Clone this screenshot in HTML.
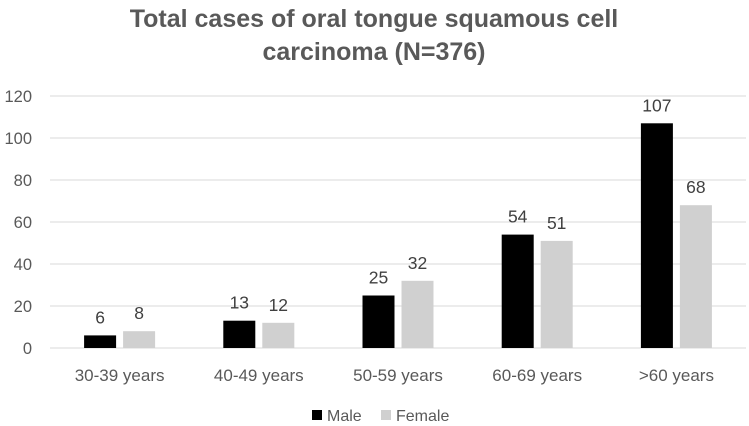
<!DOCTYPE html>
<html><head><meta charset="utf-8"><style>
body{margin:0;background:#fff;}
svg{display:block;font-family:"Liberation Sans",sans-serif;}
</style></head><body>
<svg id="chart" width="749" height="426">
<text x="374" y="27" text-anchor="middle" font-size="25" font-weight="bold" fill="#595959">Total cases of oral tongue squamous cell</text>
<text x="374" y="60" text-anchor="middle" font-size="25" font-weight="bold" fill="#595959">carcinoma (N=376)</text>
<g id="grid"></g><g id="bars"></g>
<g>
<rect x="312" y="410" width="10" height="10" fill="#000"/>
<text x="327" y="421" font-size="16" fill="#595959">Male</text>
<rect x="381" y="410" width="10" height="10" fill="#d0d0d0"/>
<text x="396" y="421" font-size="16" fill="#595959">Female</text>
</g>
</svg>
<script>
const categories=["30-39 years","40-49 years","50-59 years","60-69 years",">60 years"];
const male=[6,13,25,54,107];
const female=[8,12,32,51,68];
const yTicks=[0,20,40,60,80,100,120];
const NS="http://www.w3.org/2000/svg";
const x0=50,x1=746,y0=348,yTop=96,yMax=120;
const y=v=>y0-(v/yMax)*(y0-yTop);
const band=(x1-x0)/categories.length;
const cx=i=>x0+band*(i+0.5);
function mk(tag,attrs,parent,text){const e=document.createElementNS(NS,tag);for(const k in attrs)e.setAttribute(k,attrs[k]);if(text!=null)e.textContent=text;parent.appendChild(e);return e;}
const grid=document.getElementById('grid'),bars=document.getElementById('bars');
yTicks.forEach(t=>{
 const l=mk('line',{x1:x0,x2:x1,y1:y(t),y2:y(t),stroke:'#d9d9d9','stroke-width':1},grid);
 
 
 const tx=mk('text',{x:32,y:y(t)+6,'text-anchor':'end','font-size':16.5,fill:'#595959'},grid,t);
 
 
});
const bw=32,gap=7;
categories.forEach((c,i)=>{
 [[male[i],'#000',-1,'male'],[female[i],'#d0d0d0',1,'female']].forEach(([v,col,s,n])=>{
  const bx=s<0?cx(i)-gap/2-bw:cx(i)+gap/2;
  const r=mk('rect',{x:bx,y:y(v),width:bw,height:y0-y(v),fill:col},bars);
  
  
  const lb=mk('text',{x:bx+bw/2,y:y(v)-12,'text-anchor':'middle','font-size':17.5,fill:'#404040'},bars,v);
  
  
 });
 const t=mk('text',{x:cx(i),y:381,'text-anchor':'middle','font-size':17,fill:'#595959'},bars,c);
 
 
});
</script>
</body></html>
